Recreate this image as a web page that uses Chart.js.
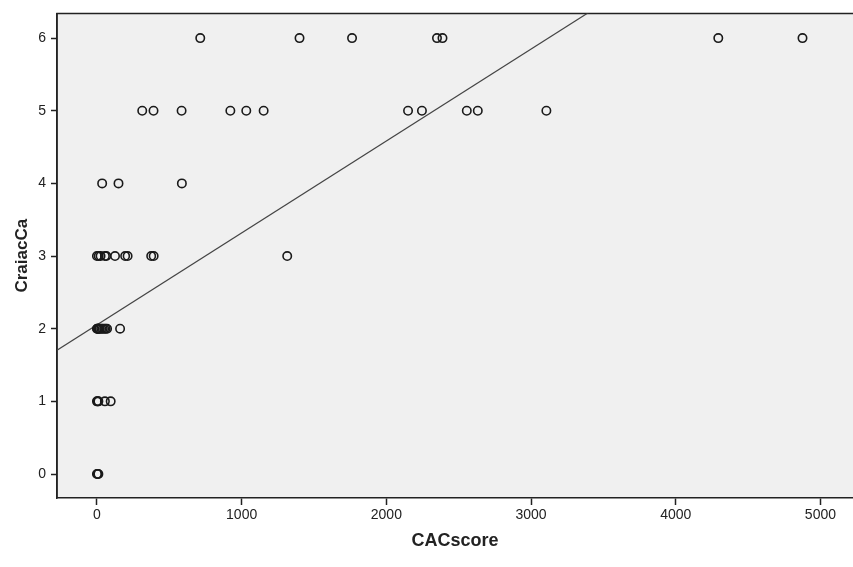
<!DOCTYPE html>
<html>
<head>
<meta charset="utf-8">
<script src="https://cdn.jsdelivr.net/npm/chart.js@4/dist/chart.umd.min.js"></script>
<style>
  html, body { margin: 0; padding: 0; background: #fff; overflow: hidden; }
  canvas { display: block; }
</style>
</head>
<body>
<canvas id="chart" width="853" height="567"></canvas>
<script>
// CACscore values grouped by CraiacCa level
const cac0 = [0, 5, 10];
const cac1 = [0, 5, 10, 55, 95];
const cac2 = [0, 3, 6, 10, 15, 20, 30, 40, 50, 60, 70, 160];
const cac3 = [0, 12, 25, 55, 65, 125, 195, 212, 375, 392, 1315];
const cac4 = [36, 149, 587];
const cac5 = [313, 391, 585, 922, 1032, 1152, 2150, 2246, 2556, 2632, 3106];
const cac6 = [714, 1400, 1763, 2350, 2388, 4294, 4876];
const levels = [cac0, cac1, cac2, cac3, cac4, cac5, cac6];

// fit line
const fitIntercept = 2.054;
const fitSlope = 0.001265;

const xMin = -276, xMax = 5225;
const yMin = -0.33, yMax = 6.34;
const xTicks = [0, 1000, 2000, 3000, 4000, 5000];
const yTicks = [0, 1, 2, 3, 4, 5, 6];

const points = [];
levels.forEach((arr, lvl) => arr.forEach(v => points.push({ x: v, y: lvl })));

const fitLine = [xMin, xMax].map(x => ({ x, y: fitIntercept + fitSlope * x }));

const plotBg = {
  id: "plotBg",
  beforeDraw(chart) {
    const { ctx, chartArea: a } = chart;
    ctx.save();
    ctx.fillStyle = "#f0f0f0";
    ctx.fillRect(a.left, a.top, chart.width - a.left, a.bottom - a.top);
    ctx.strokeStyle = "#222";
    ctx.lineWidth = 1.5;
    ctx.beginPath();
    ctx.moveTo(a.left, a.bottom);
    ctx.lineTo(a.left, a.top);
    ctx.lineTo(chart.width, a.top);
    ctx.stroke();
    ctx.restore();
  }
};

const tickFont = { family: "Liberation Sans, Arial", size: 14 };

new Chart(document.getElementById("chart"), {
  type: "scatter",
  data: {
    datasets: [
      {
        type: "line",
        data: fitLine,
        borderColor: "#444",
        borderWidth: 1.2,
        pointRadius: 0,
        fill: false,
        order: 2
      },
      {
        data: points,
        pointRadius: 4.2,
        pointBorderWidth: 1.6,
        pointBorderColor: "#1a1a1a",
        pointBackgroundColor: "rgba(0,0,0,0)",
        order: 1
      }
    ]
  },
  options: {
    responsive: false,
    animation: false,
    layout: { autoPadding: false, padding: { top: 9, right: 0, bottom: 0, left: 0 } },
    plugins: { legend: { display: false }, tooltip: { enabled: false } },
    scales: {
      x: {
        type: "linear",
        min: xMin,
        max: xMax,
        afterBuildTicks: s => { s.ticks = xTicks.map(v => ({ value: v })); },
        afterFit: s => { s.height = 69; },
        ticks: {
          color: "#222",
          padding: 2,
          maxRotation: 0,
          autoSkip: false,
          font: tickFont,
          callback: v => String(v)
        },
        grid: { drawOnChartArea: false, tickLength: 7, color: "#222", tickWidth: 1.5 },
        border: { color: "#222", width: 1.5 },
        title: {
          display: true,
          text: "CACscore",
          color: "#222",
          padding: { top: 0, bottom: 15 },
          font: { family: "Liberation Sans, Arial", size: 18, weight: "bold" }
        }
      },
      y: {
        min: yMin,
        max: yMax,
        afterBuildTicks: s => { s.ticks = yTicks.map(v => ({ value: v })); },
        afterFit: s => { s.width = 57; },
        ticks: {
          color: "#222",
          padding: 5,
          autoSkip: false,
          font: tickFont
        },
        grid: { drawOnChartArea: false, tickLength: 6, color: "#222", tickWidth: 1.5 },
        border: { color: "#222", width: 1.5 },
        title: {
          display: true,
          text: "CraiacCa",
          color: "#222",
          padding: { top: 12, bottom: 0 },
          font: { family: "Liberation Sans, Arial", size: 17, weight: "bold" }
        }
      }
    }
  },
  plugins: [plotBg]
});
</script>
</body>
</html>
